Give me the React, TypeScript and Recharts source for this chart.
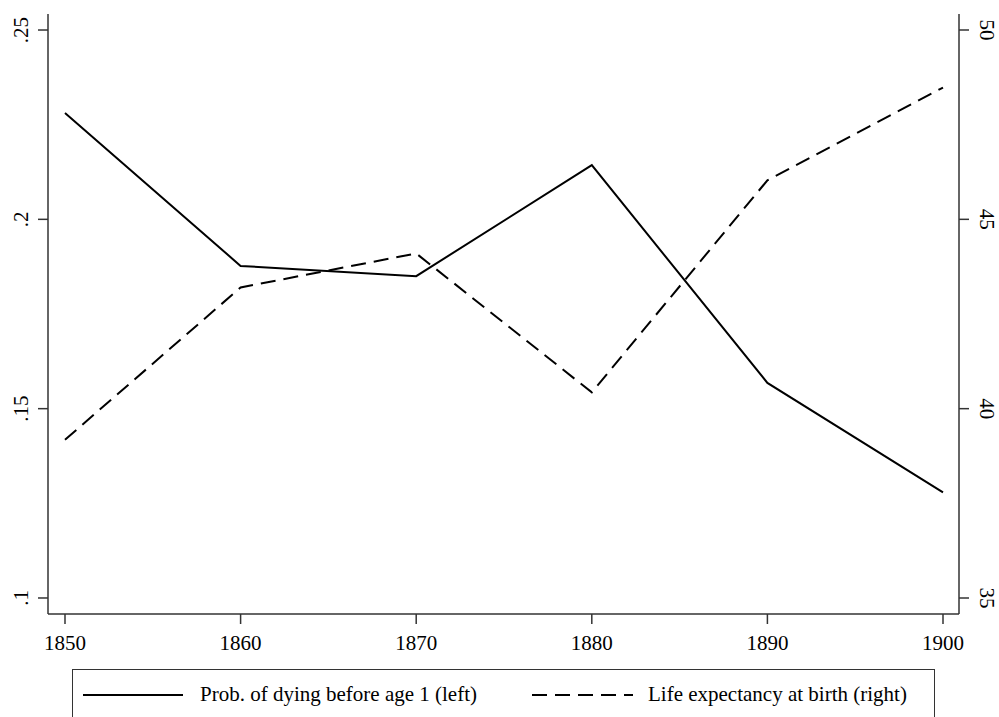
import React from 'react';
import { LineChart, Line, XAxis, YAxis, Legend } from 'recharts';

const years = [1850, 1860, 1870, 1880, 1890, 1900];
const probDying = [0.2281, 0.1877, 0.185, 0.2143, 0.1568, 0.1279];
const lifeExp = [39.18, 43.2, 44.1, 40.43, 46.03, 48.48];

const leftTicks = [0.1, 0.15, 0.2, 0.25];
const rightTicks = [35, 40, 45, 50];

const data = years.map((year, i) => ({
  year,
  prob: probDying[i],
  life: lifeExp[i],
}));

const FONT = '"Liberation Serif", "Times New Roman", serif';
const AXIS = '#333';

// Stata style: ".25" instead of "0.25"
const fmtLeft = (v: number) => String(v).replace(/^0\./, '.');

const LeftTick = (props: any) => {
  const { x, y, payload } = props;
  return (
    <text
      x={x}
      y={y}
      transform={`rotate(-90, ${x}, ${y})`}
      textAnchor="middle"
      fontFamily={FONT}
      fontSize={21}
      fill="#000"
    >
      {fmtLeft(payload.value)}
    </text>
  );
};

const RightTick = (props: any) => {
  const { x, y, payload } = props;
  return (
    <text
      x={x}
      y={y}
      transform={`rotate(90, ${x}, ${y})`}
      textAnchor="middle"
      fontFamily={FONT}
      fontSize={21}
      fill="#000"
    >
      {payload.value}
    </text>
  );
};

const LegendBox = () => (
  <div
    style={{
      border: '1.5px solid #333',
      height: 60,
      boxSizing: 'border-box',
      fontFamily: FONT,
      fontSize: 21,
      position: 'relative',
    }}
  >
    <svg width={120} height={20} style={{ position: 'absolute', left: 10, top: 15 }}>
      <line x1={0} y1={10} x2={100} y2={10} stroke="#000" strokeWidth={2} />
    </svg>
    <span style={{ position: 'absolute', left: 127, top: 12 }}>
      Prob. of dying before age 1 (left)
    </span>
    <svg width={120} height={20} style={{ position: 'absolute', left: 459, top: 15 }}>
      <line x1={0} y1={10} x2={101} y2={10} stroke="#000" strokeWidth={2} strokeDasharray="15 8" />
    </svg>
    <span style={{ position: 'absolute', left: 575, top: 12 }}>
      Life expectancy at birth (right)
    </span>
  </div>
);

export default function App() {
  return (
    <div style={{ position: 'absolute', left: 0, top: 0, width: 999, height: 717, overflow: 'hidden', background: '#fff' }}>
      <LineChart width={999} height={717} data={data} margin={{ top: 14, right: 0, bottom: 0, left: 0 }}>
        <XAxis
          dataKey="year"
          type="number"
          domain={[1849.032, 1900.911]}
          ticks={years}
          allowDataOverflow
          height={103}
          tickSize={10}
          tickMargin={11}
          stroke={AXIS}
          strokeWidth={1.5}
          tick={{ fill: '#000', fontFamily: FONT, fontSize: 21 }}
        />
        <YAxis
          yAxisId="left"
          orientation="left"
          width={48}
          domain={[0.09577, 0.25423]}
          ticks={leftTicks}
          allowDataOverflow
          tickSize={10}
          tickMargin={10}
          stroke={AXIS}
          strokeWidth={1.5}
          tick={<LeftTick />}
        />
        <YAxis
          yAxisId="right"
          orientation="right"
          width={40}
          domain={[34.5775, 50.4225]}
          ticks={rightTicks}
          allowDataOverflow
          tickSize={10}
          tickMargin={11}
          stroke={AXIS}
          strokeWidth={1.5}
          tick={<RightTick />}
        />
        <Line
          yAxisId="left"
          dataKey="prob"
          type="linear"
          stroke="#000"
          strokeWidth={2}
          dot={false}
          isAnimationActive={false}
        />
        <Line
          yAxisId="right"
          dataKey="life"
          type="linear"
          stroke="#000"
          strokeWidth={2}
          strokeDasharray="15 8"
          dot={false}
          isAnimationActive={false}
        />
        <Legend
          layout="horizontal"
          verticalAlign="middle"
          align="center"
          wrapperStyle={{ position: 'absolute', left: 72, top: 669, width: 863 }}
          content={<LegendBox />}
        />
      </LineChart>
    </div>
  );
}
